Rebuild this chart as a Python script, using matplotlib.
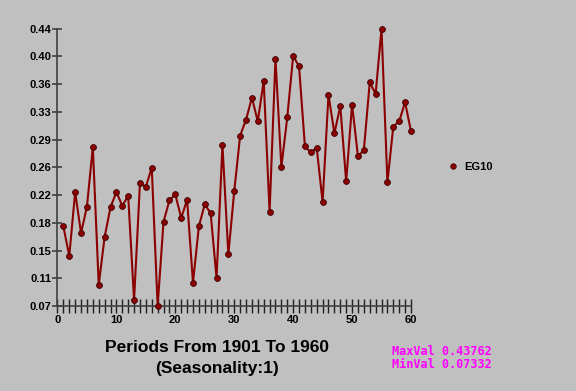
import numpy as np
import matplotlib
matplotlib.use("Agg")
import matplotlib.pyplot as plt
from matplotlib.lines import Line2D

# data
periods = list(range(1, 61))
eg10 = [0.178, 0.139, 0.223, 0.169, 0.204, 0.282, 0.101, 0.164, 0.203, 0.223,
        0.205, 0.218, 0.081, 0.235, 0.230, 0.255, 0.0733, 0.184, 0.212, 0.220,
        0.189, 0.213, 0.104, 0.178, 0.207, 0.195, 0.110, 0.285, 0.141, 0.224,
        0.297, 0.318, 0.347, 0.316, 0.369, 0.197, 0.398, 0.256, 0.321, 0.402,
        0.388, 0.283, 0.275, 0.281, 0.210, 0.351, 0.300, 0.336, 0.237, 0.338,
        0.270, 0.278, 0.367, 0.352, 0.4376, 0.236, 0.309, 0.316, 0.341, 0.303]
series_name = "EG10"
max_val = 0.43762
min_val = 0.07332
x_major = [0, 10, 20, 30, 40, 50, 60]

bg = "#c0c0c0"
red = "#8b0000"
axis_col = "#404040"

fig = plt.figure(figsize=(5.76, 3.91), dpi=100, facecolor=bg)
ax = fig.add_axes([0.0998, 0.2174, 0.6137, 0.7092], facecolor=bg)

ax.plot(periods, eg10, color=red, lw=1.5, marker="o", ms=4.2,
        mfc=red, mec="#3a0000", mew=0.6, clip_on=False, zorder=3)

ax.set_xlim(0, 60)
ax.set_ylim(min_val, max_val)

for s in ["top", "right"]:
    ax.spines[s].set_visible(False)
for s in ["left", "bottom"]:
    ax.spines[s].set_color(axis_col)
    ax.spines[s].set_linewidth(1.2)

yt = np.linspace(min_val, max_val, 11)
ax.set_yticks(yt)
ax.set_yticklabels(["%.2f" % v for v in yt])
ax.set_xticks(x_major)
ax.set_xticks(periods, minor=True)
ax.tick_params(axis="y", direction="inout", length=7, width=1.2, color=axis_col,
               labelsize=8, pad=1)
ax.tick_params(axis="x", which="both", direction="inout", length=9.5, width=1.0,
               color="#202020", labelsize=8, pad=2)
for lbl in ax.get_xticklabels() + ax.get_yticklabels():
    lbl.set_fontweight("bold")
    lbl.set_family("Liberation Sans")

handle = Line2D([], [], ls="none", marker="o", ms=4, mfc=red, mec="#3a0000", mew=0.5)
fig.legend([handle], [series_name], loc="center left", bbox_to_anchor=(0.761, 0.573),
           frameon=False, handlelength=0.8, handletextpad=0.6,
           prop={"family": "Liberation Sans", "weight": "bold", "size": 8})

fig.text(0.376, 0.110, "Periods From 1901 To 1960", ha="center", va="center",
         family="Liberation Sans", weight="bold", fontsize=12.5)
fig.text(0.376, 0.058, "(Seasonality:1)", ha="center", va="center",
         family="Liberation Sans", weight="bold", fontsize=12.5)

fig.text(0.680, 0.102, "MaxVal %.5f" % max_val, ha="left", va="center",
         family="DejaVu Sans Mono", weight="bold", fontsize=8.5, color="#ff00ff")
fig.text(0.680, 0.068, "MinVal %.5f" % min_val, ha="left", va="center",
         family="DejaVu Sans Mono", weight="bold", fontsize=8.5, color="#ff00ff")

fig.savefig("out.png", dpi=100, facecolor=bg)
